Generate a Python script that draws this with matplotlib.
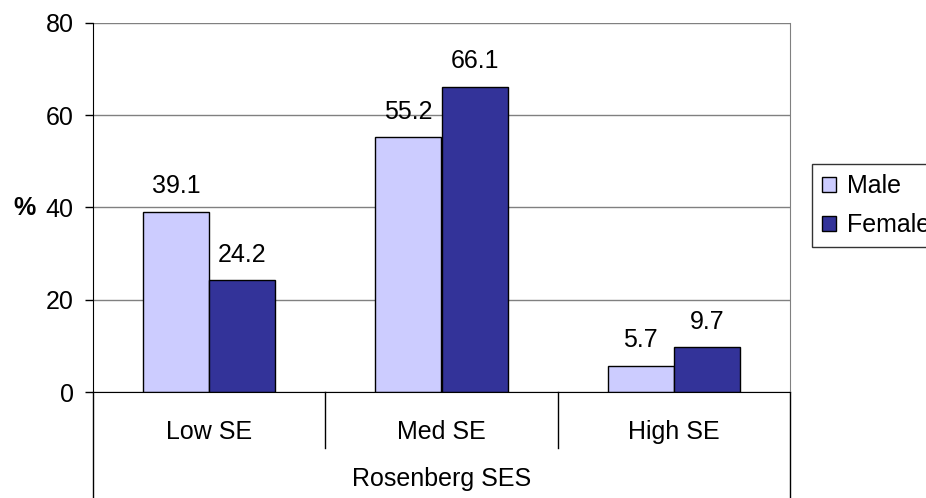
import numpy as np
import matplotlib
matplotlib.use("Agg")
import matplotlib.pyplot as plt

plt.rcParams['font.family'] = ['Liberation Sans', 'DejaVu Sans']

# self-esteem groups by gender
categories = ['Low SE', 'Med SE', 'High SE']
male = [39.1, 55.2, 5.7]
female = [24.2, 66.1, 9.7]
series_names = ['Male', 'Female']
yticks = [0, 20, 40, 60, 80]

male_color = '#CCCCFF'
female_color = '#333399'
fs = 18

fig = plt.figure(figsize=(9.26, 4.98), dpi=100)
ax = fig.add_axes([93 / 926, 1 - 392 / 498, 697 / 926, 369 / 498])

x = np.arange(len(categories))
w = 0.285
b1 = ax.bar(x - w / 2, male, w, color=male_color, edgecolor='black', linewidth=1.0,
            label=series_names[0], zorder=3)
b2 = ax.bar(x + w / 2, female, w, color=female_color, edgecolor='black', linewidth=1.0,
            label=series_names[1], zorder=3)

for bars, vals in ((b1, male), (b2, female)):
    for rect, v in zip(bars, vals):
        ax.annotate(f'{v:.1f}', (rect.get_x() + rect.get_width() / 2, v),
                    xytext=(0, 13.5), textcoords='offset points',
                    ha='center', va='baseline', fontsize=fs)

ax.set_xlim(-0.5, len(categories) - 0.5)
ax.set_ylim(0, 80)
ax.set_yticks(yticks)
ax.set_yticklabels([str(t) for t in yticks], fontsize=fs)
ax.tick_params(axis='y', length=6, width=1, pad=8)
ax.set_xticks([])
ax.yaxis.grid(True, color='#808080', linewidth=1, zorder=0)

ax.spines['top'].set_visible(False)
ax.spines['right'].set_color('#808080')
ax.spines['left'].set_color('black')
ax.spines['bottom'].set_color('black')
ax.spines['bottom'].set_zorder(4)

fig.text(25 / 926, 1 - 208 / 498, '%', fontsize=fs, fontweight='bold',
         ha='center', va='center')

# category axis: separators below the plot, labels and axis title
trans = ax.get_xaxis_transform()
for i in range(len(categories) + 1):
    xs = i - 0.5
    y_end = -0.152 if 0 < i < len(categories) else -0.3
    ax.plot([xs, xs], [0, y_end], transform=trans, color='black', linewidth=1,
            clip_on=False)
for i, c in enumerate(categories):
    ax.text(i, -0.108, c, transform=trans, ha='center', va='center', fontsize=fs)
ax.text(1, -0.236, 'Rosenberg SES', transform=trans, ha='center', va='center',
        fontsize=fs)

leg = fig.legend(loc='upper left', bbox_to_anchor=(812 / 926, 1 - 164 / 498),
                 fontsize=fs, frameon=True, fancybox=False, edgecolor='black',
                 handlelength=0.55, handleheight=0.55, handletextpad=0.45,
                 borderpad=0.4, labelspacing=0.6, borderaxespad=0)
leg.get_frame().set_linewidth(1)

fig.savefig('out.png', dpi=100)
